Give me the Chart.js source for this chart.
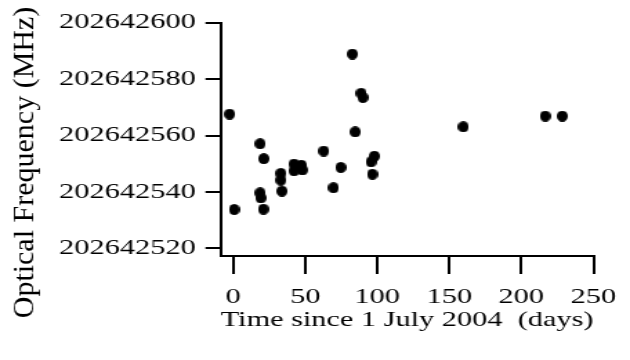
<!DOCTYPE html>
<html>
<head>
<meta charset="utf-8">
<script src="https://cdn.jsdelivr.net/npm/chart.js@4/dist/chart.umd.min.js"></script>
<style>
  html, body { margin: 0; padding: 0; background: #fff; }
  #freqChart { display: block; }
</style>
</head>
<body>
<!-- the source figure is wider than tall in its lettering, so the canvas is drawn narrow and stretched -->
<canvas id="freqChart" width="456" height="360" style="width:630px;height:360px"></canvas>
<script>
"use strict";

const days = [-2.5, 0.7, 18.7, 21.2, 18.7, 19.2, 21.0, 33.1, 33.1, 33.8, 42.2, 42.2, 47.3, 48.0,
    62.8, 69.6, 74.7, 82.7, 84.7, 88.8, 90.0, 95.7, 98.0, 96.6, 159.7, 216.6, 228.4];
const freqs = [202642567.6, 202642533.8, 202642557.1, 202642551.8, 202642539.7, 202642537.9,
    202642533.9, 202642546.6, 202642544.2, 202642540.3, 202642549.9, 202642547.5, 202642549.5,
    202642547.8, 202642554.5, 202642541.5, 202642548.7, 202642588.9, 202642561.3, 202642575.0,
    202642573.5, 202642550.7, 202642552.7, 202642546.3, 202642563.1, 202642566.9, 202642566.9];
const xTicks = [0, 50, 100, 150, 200, 250];
const yTicks = [202642520, 202642540, 202642560, 202642580, 202642600];
const xTitle = "Time since 1 July 2004  (days)";
const yTitle = "Optical Frequency (MHz)";

const stretch = 630 / 456;
const serif = "'Liberation Serif', 'Times New Roman', serif";

// round dot on screen -> narrower dot on the unstretched canvas
const dot = document.createElement("canvas");
dot.width = 8;
dot.height = 11;
const dctx = dot.getContext("2d");
dctx.fillStyle = "#000";
dctx.beginPath();
dctx.ellipse(4, 5.5, 4, 5.5, 0, 0, Math.PI * 2);
dctx.fill();

const yTitlePlugin = {
    id: "yTitle",
    afterDraw(chart) {
        const ctx = chart.ctx;
        ctx.save();
        ctx.translate(33.5 / stretch, 162.5);
        ctx.scale(1 / stretch, 1);
        ctx.rotate(-Math.PI / 2);
        ctx.font = "30px " + serif;
        ctx.fillStyle = "#000";
        ctx.textAlign = "center";
        ctx.textBaseline = "alphabetic";
        ctx.fillText(yTitle, 0, 0);
        ctx.restore();
    }
};

const points = days.map((d, i) => ({ x: d, y: freqs[i] }));

new Chart(document.getElementById("freqChart"), {
    type: "scatter",
    data: {
        datasets: [{
            data: points,
            pointStyle: dot,
            backgroundColor: "#000",
            borderColor: "#000"
        }]
    },
    options: {
        responsive: false,
        devicePixelRatio: 1,
        animation: false,
        layout: { padding: { left: 0, right: 23.7, top: 22.7, bottom: 0 } },
        plugins: { legend: { display: false }, tooltip: { enabled: false } },
        scales: {
            x: {
                type: "linear",
                min: -8.7,
                max: 250,
                afterBuildTicks: (axis) => { axis.ticks = xTicks.map(v => ({ value: v })); },
                afterFit: (axis) => { axis.height = 104; },
                grid: { drawOnChartArea: false, drawTicks: true, tickLength: 18, color: "#000", lineWidth: 2 },
                border: { display: true, color: "#000", width: 2 },
                ticks: { color: "#000", font: { family: serif, size: 22 }, padding: 10, maxRotation: 0 },
                title: { display: true, text: xTitle, color: "#000", font: { family: serif, size: 22 },
                    padding: { top: 4, bottom: 27 } }
            },
            y: {
                type: "linear",
                min: 202642517.3,
                max: 202642600,
                afterBuildTicks: (axis) => { axis.ticks = yTicks.map(v => ({ value: v })); },
                afterFit: (axis) => { axis.width = 159.7; },
                grid: { drawOnChartArea: false, drawTicks: true, tickLength: 11, color: "#000", lineWidth: 2 },
                border: { display: true, color: "#000", width: 2 },
                ticks: { color: "#000", font: { family: serif, size: 22 }, padding: 7,
                    callback: (v) => String(v) },
                title: { display: false }
            }
        }
    },
    plugins: [yTitlePlugin]
});
</script>
</body>
</html>
